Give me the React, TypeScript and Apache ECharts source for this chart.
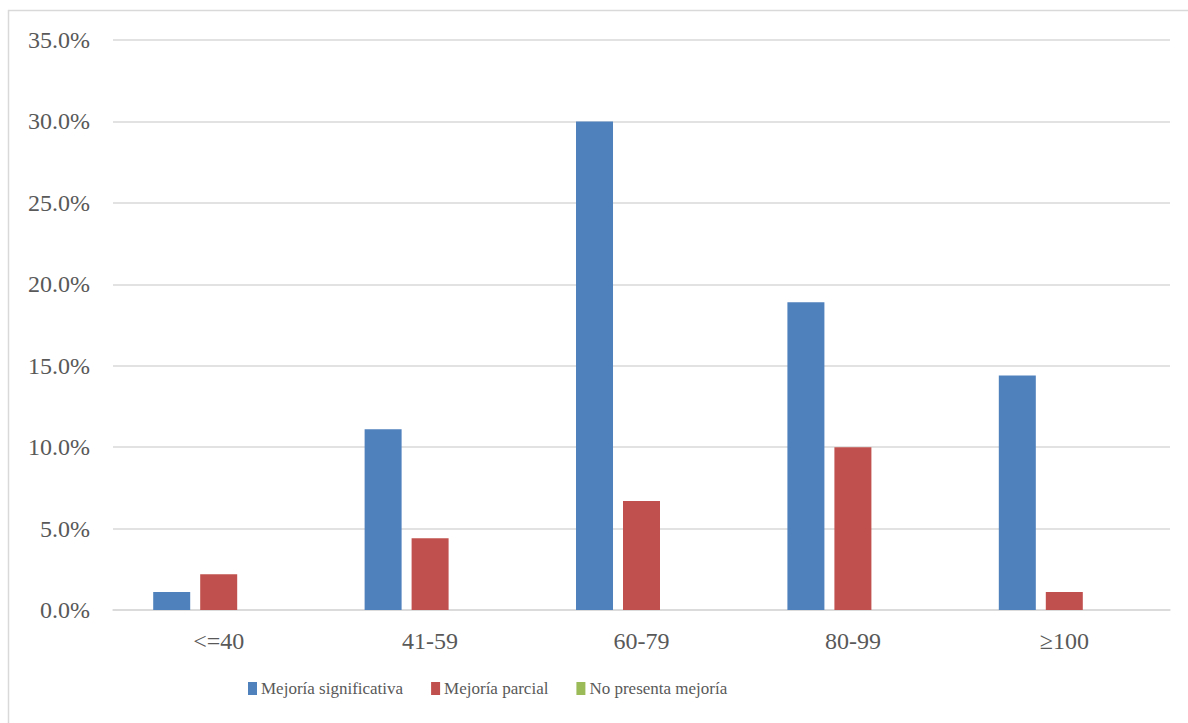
import React, { useEffect, useRef } from "react";
import * as echarts from "echarts";

const categories = ["<=40", "41-59", "60-79", "80-99", "≥100"];
const seriesNames = ["Mejoría significativa", "Mejoría parcial", "No presenta mejoría"];
const significativa = [1.1, 11.1, 30.0, 18.9, 14.4];
const parcial = [2.2, 4.4, 6.7, 10.0, 1.1];
const noMejoria = [0, 0, 0, 0, 0];
const colors = ["#4F81BD", "#C0504D", "#9BBB59"];

const FONT = "'Liberation Serif', 'DejaVu Serif', serif";

export default function App() {
  const ref = useRef<HTMLDivElement>(null);
  useEffect(() => {
    if (!ref.current) return;
    const chart = echarts.init(ref.current, null, { renderer: "svg" });
    const data = [significativa, parcial, noMejoria];
    chart.setOption({
      animation: false,
      backgroundColor: "#ffffff",
      textStyle: { fontFamily: FONT, color: "#595959" },
      graphic: [
        {
          type: "rect",
          shape: { x: 8.5, y: 10.5, width: 1200, height: 730 },
          style: { fill: "none", stroke: "#D9D9D9", lineWidth: 1.5 },
          silent: true,
        },
      ],
      grid: { left: 113, right: 18, top: 40, bottom: 113, containLabel: false },
      legend: {
        top: 675,
        left: 243,
        itemWidth: 9,
        itemHeight: 13,
        itemGap: 28,
        icon: "rect",
        textStyle: { fontFamily: FONT, fontSize: 17, color: "#595959", padding: [0, 0, 0, -1] },
        data: seriesNames,
      },
      xAxis: {
        type: "category",
        data: categories,
        axisLine: { lineStyle: { color: "#D9D9D9", width: 1.5 } },
        axisTick: { show: false },
        axisLabel: { fontFamily: FONT, fontSize: 24, color: "#595959", margin: 19 },
      },
      yAxis: {
        type: "value",
        min: 0,
        max: 35,
        interval: 5,
        axisLine: { show: false },
        axisTick: { show: false },
        splitLine: { lineStyle: { color: "#D9D9D9", width: 1.5 } },
        axisLabel: {
          fontFamily: FONT,
          fontSize: 24,
          color: "#595959",
          margin: 23,
          formatter: (v: number) => v.toFixed(1) + "%",
        },
      },
      series: seriesNames.map((name, i) => ({
        name,
        type: "bar",
        data: data[i],
        barWidth: 37,
        barGap: "27%",
        itemStyle: { color: colors[i] },
      })),
    });
    return () => chart.dispose();
  }, []);
  return (
    <div
      ref={ref}
      style={{ position: "fixed", left: 0, top: 0, width: 1188, height: 723 }}
    />
  );
}
